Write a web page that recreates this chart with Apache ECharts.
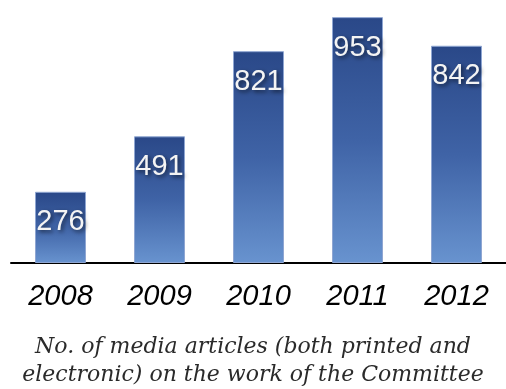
<!DOCTYPE html>
<html>
<head>
<meta charset="utf-8">
<script src="https://cdn.jsdelivr.net/npm/echarts@6/dist/echarts.min.js"></script>
<style>
html,body{margin:0;padding:0;background:#fff;}
#chart{width:506px;height:389px;}
</style>
</head>
<body>
<div id="chart"></div>
<script>
const years = ['2008', '2009', '2010', '2011', '2012'];
const articles = [276, 491, 821, 953, 842];
const captionLines = ['No. of media articles (both printed and', 'electronic) on the work of the Committee'];

const chart = echarts.init(document.getElementById('chart'), null, {renderer: 'canvas'});
chart.setOption({
  backgroundColor: '#ffffff',
  animation: false,
  title: {
    text: captionLines.join('\n'),
    left: 'center',
    top: 328,
    textStyle: {
      fontFamily: 'DejaVu Serif',
      fontStyle: 'italic',
      fontWeight: 'normal',
      fontSize: 22,
      lineHeight: 28,
      color: '#2a2a2a'
    }
  },
  grid: {left: 11, top: 5, width: 505, height: 258},
  xAxis: {
    type: 'category',
    data: years,
    axisLine: {show: true, lineStyle: {color: '#000', width: 2}},
    axisTick: {show: false},
    axisLabel: {
      fontFamily: 'Liberation Sans',
      fontStyle: 'italic',
      fontSize: 29,
      color: '#000',
      margin: 19
    }
  },
  yAxis: {
    type: 'value',
    min: 0,
    max: 1000,
    show: false,
    splitLine: {show: false}
  },
  series: [{
    type: 'bar',
    data: articles,
    barWidth: 51,
    itemStyle: {
      color: new echarts.graphic.LinearGradient(0, 0, 0, 1, [
        {offset: 0, color: '#2a4888'},
        {offset: 0.5, color: '#3f63a6'},
        {offset: 1, color: '#6893cf'}
      ]),
      borderColor: '#8fa6d2',
      borderWidth: 1
    },
    label: {
      show: true,
      position: 'insideTop',
      distance: 16,
      fontFamily: 'Liberation Sans',
      fontSize: 29,
      color: '#f4f4f4',
      textShadowColor: 'rgba(0,0,0,0.6)',
      textShadowBlur: 4,
      textShadowOffsetX: 2,
      textShadowOffsetY: 2
    }
  }]
});
</script>
</body>
</html>
